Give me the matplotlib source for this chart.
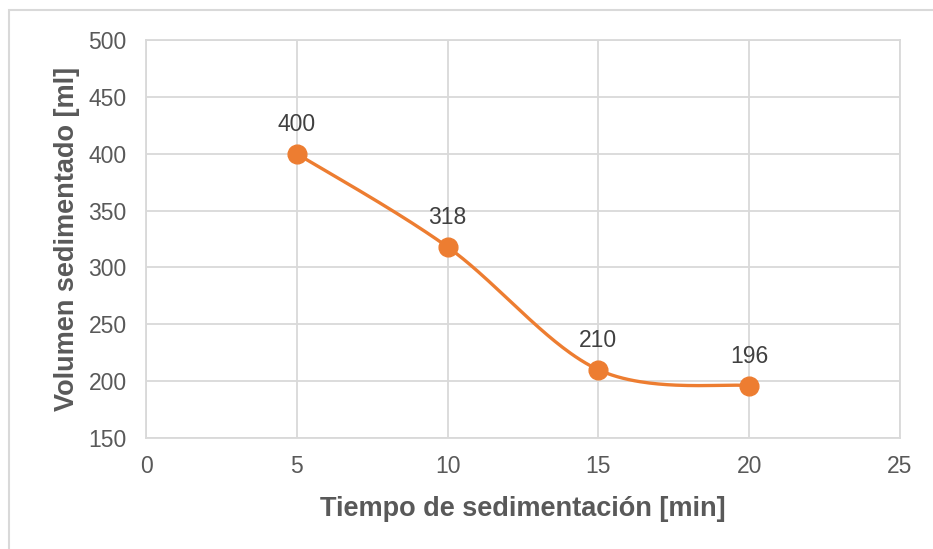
import numpy as np
import matplotlib
matplotlib.use("Agg")
import matplotlib.pyplot as plt
from matplotlib.patches import Rectangle

# Data
tiempo = [5, 10, 15, 20]
volumen = [400, 318, 210, 196]
x_ticks = [0, 5, 10, 15, 20, 25]
y_ticks = [150, 200, 250, 300, 350, 400, 450, 500]

plt.rcParams['font.family'] = ['Liberation Sans', 'DejaVu Sans']

fig = plt.figure(figsize=(9.33, 5.49), dpi=100)
ax = fig.add_axes([0.1565, 0.2022, 0.8081, 0.7249])

# Outer chart frame
fig.patches.append(Rectangle((9 / 933, -0.05), 1.2, 1 - 10 / 549 + 0.05,
                             transform=fig.transFigure, fill=False,
                             edgecolor='#d9d9d9', linewidth=1.5, zorder=0))

ax.set_xlim(0, 25)
ax.set_ylim(150, 500)


def smooth_curve(xs, ys, n=60):
    """Cubic Bezier smoothing through the points (Catmull-Rom style),
    computed in pixel space so the curve shape follows the drawn aspect."""
    bbox = ax.get_window_extent()
    sx = bbox.width / (ax.get_xlim()[1] - ax.get_xlim()[0])
    sy = bbox.height / (ax.get_ylim()[1] - ax.get_ylim()[0])
    P = np.column_stack([np.asarray(xs, float) * sx, np.asarray(ys, float) * sy])
    out = []
    m = len(P)
    for i in range(m - 1):
        p0 = P[i - 1] if i > 0 else P[i]
        p1 = P[i]
        p2 = P[i + 1]
        p3 = P[i + 2] if i + 2 < m else P[i + 1]
        c1 = p1 + (p2 - p0) / 6.0
        c2 = p2 - (p3 - p1) / 6.0
        t = np.linspace(0, 1, n)[:, None]
        seg = ((1 - t) ** 3) * p1 + 3 * ((1 - t) ** 2) * t * c1 + 3 * (1 - t) * t ** 2 * c2 + t ** 3 * p2
        out.append(seg if i == 0 else seg[1:])
    pts = np.vstack(out)
    return pts[:, 0] / sx, pts[:, 1] / sy


color = '#ED7D31'
cx, cy = smooth_curve(tiempo, volumen)
ax.plot(cx, cy, color=color, linewidth=2.4, solid_capstyle='round', zorder=3)
ax.plot(tiempo, volumen, 'o', color=color, markersize=13.5, zorder=4)

for x, y in zip(tiempo, volumen):
    ax.annotate(f"{y}", (x, y), xytext=(0, 13), textcoords='offset points',
                ha='center', va='bottom', fontsize=16.5, color='#404040')

ax.set_xticks(x_ticks)
ax.set_yticks(y_ticks)
ax.grid(True, color='#d9d9d9', linewidth=1.3)
ax.set_axisbelow(True)
for s in ax.spines.values():
    s.set_color('#d9d9d9')
    s.set_linewidth(1.3)
ax.tick_params(axis='y', length=0, labelsize=16.5, labelcolor='#595959', pad=14)
ax.tick_params(axis='x', length=0, labelsize=16.5, labelcolor='#595959', pad=12)

ax.set_xlabel('Tiempo de sedimentación [min]', fontsize=19.5, fontweight='bold',
              color='#595959', labelpad=13)
ax.set_ylabel('Volumen sedimentado [ml]', fontsize=19.5, fontweight='bold',
              color='#595959', labelpad=6)

fig.savefig('out.png', dpi=100)
